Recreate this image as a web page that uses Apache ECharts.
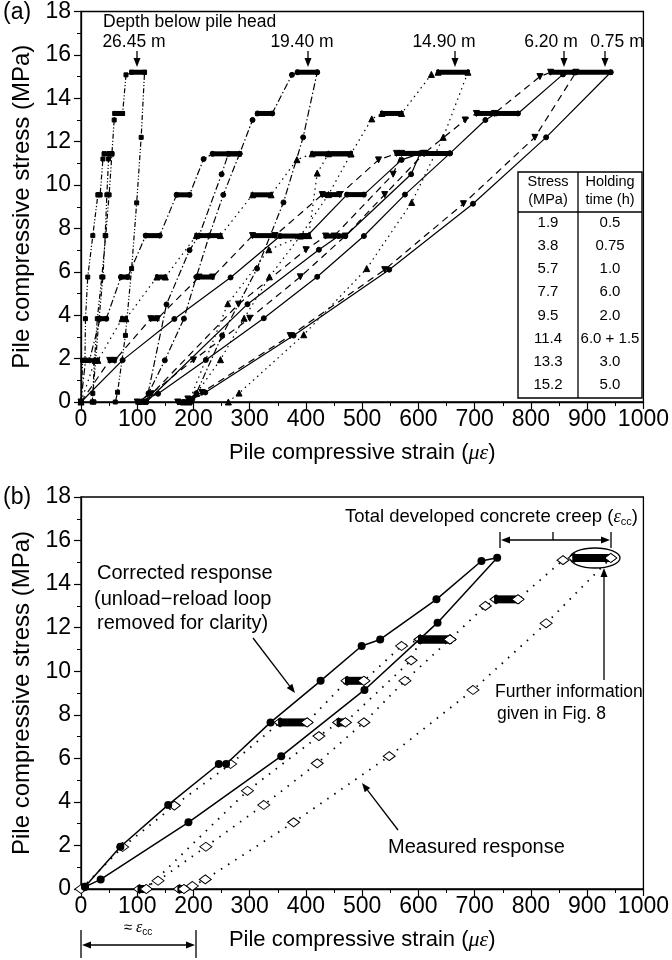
<!DOCTYPE html>
<html>
<head>
<meta charset="utf-8">
<script src="https://cdn.jsdelivr.net/npm/echarts@6/dist/echarts.min.js"></script>
<style>
html, body { margin: 0; padding: 0; background: #fff; }
#figure { width: 672px; height: 960px; }
</style>
</head>
<body>
<div id="figure"></div>
<script>
// [strain (microstrain), stress (MPa)] in test order: load, unload, reload, load, unload
var d2645 = [[0,0],[3,1.92],[7,1.92],[8,3.84],[12,5.76],[21,7.67],[30,9.55],[34,9.55],[39,11.2],[41,11.44],[55,11.44],
    [50,9.55],[44,7.67],[37,5.76],[29,3.84],[24,1.92],[21,0.4],[20,0],[23,0],
    [32,3.84],[39,5.76],[43,7.67],[46,9.55],[49,11.2],[50,11.44],[55,11.44],
    [59,13.0],[60,13.3],[74,13.3],[80,15.08],[90,15.2],[113,15.2],
    [107,12.2],[99,9.18],[90,6.15],[79,3.07],[65,0.45],[61,0]];
var d1940 = [[0,0],[8,1.92],[15,1.92],[34,3.84],[45,3.84],[71,5.76],[83,5.76],[115,7.67],[140,7.67],[170,9.55],[193,9.55],[218,11.2],[234,11.44],[282,11.44],
    [253,9.55],[228,7.67],[205,5.76],[183,3.84],[149,1.92],[120,0.4],[106,0],[116,0],
    [152,4.5],[193,7.0],[210,7.67],[250,10.5],[262,11.44],[282,11.44],
    [305,13.0],[314,13.3],[340,13.3],[375,15.08],[385,15.2],[420,15.2],
    [395,12.2],[360,9.2],[313,6.15],[251,3.07],[205,0.4],[195,0]];
var d1490 = [[0,0],[25,1.92],[30,1.92],[73,3.84],[80,3.84],[135,5.76],[150,5.76],[205,7.67],[248,7.67],[305,9.55],[338,9.55],[384,11.17],[411,11.44],[480,11.44],
    [440,9.56],[390,7.65],[335,5.77],[290,3.86],[248,1.95],[205,0.39],[182,0],[192,0],
    [261,4.53],[334,7.02],[395,7.67],[405,7.67],[420,10.55],[440,11.44],[480,11.44],
    [517,13.05],[535,13.3],[570,13.3],[623,15.1],[635,15.2],[688,15.2],
    [644,12.2],[588,9.2],[508,6.15],[396,3.1],[281,0.41],[262,0]];
var d0620 = [[0,0],[51,1.92],[60,1.92],[124,3.84],[136,3.84],[210,5.76],[234,5.76],[305,7.67],[345,7.67],[429,9.56],[460,9.56],[529,11.16],[561,11.46],[610,11.46],
    [540,9.56],[470,7.65],[390,5.77],[300,3.86],[200,1.94],[125,0.38],[100,0],[112,0],
    [280,4.51],[400,7.02],[435,7.65],[450,7.65],[555,10.5],[570,11.46],[610,11.46],
    [683,13.0],[703,13.3],[735,13.3],[816,15.0],[835,15.2],[880,15.2],
    [807,12.2],[680,9.14],[540,6.1],[372,3.06],[215,0.44],[190,0.14],[172,0]];
// 0.75 m: also the "measured response" of panel (b)
var d0075 = [[0,0],[74,1.93],[166,3.83],[266,5.74],[354,7.65],[402,7.65],[473,9.56],[503,9.56],[570,11.16],[603,11.46],[656,11.46],
    [576,9.56],[503,7.65],[420,5.77],[325,3.86],[222,1.94],[137,0.38],[104,0],[116,0],
    [296,4.51],[423,7.02],[458,7.65],[470,7.65],[587,10.5],[603,11.46],[656,11.46],
    [719,13.0],[738,13.3],[777,13.3],[857,15.1],[877,15.2],[942,15.2],
    [827,12.2],[697,9.14],[548,6.1],[378,3.06],[221,0.44],[198,0.14],[183,0],[175,0]];
var corrected = [[7,0.1],[70,1.94],[155,3.86],[245,5.74],[258,5.74],[337,7.65],[426,9.56],[499,11.16],[532,11.46],[632,13.3],[712,15.06],[740,15.21],
    [634,12.23],[504,9.14],[356,6.1],[191,3.06],[35,0.44],[7,0.1]];

var depthNames = ['26.45 m', '19.40 m', '14.90 m', '6.20 m', '0.75 m'];
var tableStress = ['1.9', '3.8', '5.7', '7.7', '9.5', '11.4', '13.3', '15.2'];
var tableHold = ['0.5', '0.75', '1.0', '6.0', '2.0', '6.0 + 1.5', '3.0', '5.0'];

var FONT = 'Liberation Sans';

// holding stages = consecutive readings at the same stress
function holdsOf(path) {
    var out = [];
    for (var i = 0; i < path.length - 1; i++) {
        if (path[i][1] === path[i + 1][1]) out.push([path[i][0], path[i + 1][0], path[i][1]]);
    }
    return out;
}

function holdSeries(path, idx, h, diamond) {
    return {
        type: 'custom',
        xAxisIndex: idx, yAxisIndex: idx,
        z: 3,
        data: holdsOf(path),
        renderItem: function(params, api) {
            var p1 = api.coord([api.value(0), api.value(2)]);
            var p2 = api.coord([api.value(1), api.value(2)]);
            var x0 = Math.min(p1[0], p2[0]), x1 = Math.max(p1[0], p2[0]);
            var kids = [{ type: 'rect', shape: { x: x0 - 2, y: p1[1] - h / 2, width: x1 - x0 + 4, height: h }, style: { fill: '#000' } }];
            if (diamond) {
                kids.push({ type: 'polygon', shape: { points: [[x1 + 6, p1[1]], [x1, p1[1] - 4.5], [x1 - 6, p1[1]], [x1, p1[1] + 4.5]] },
                    style: { fill: '#fff', stroke: '#000', lineWidth: 1 } });
            }
            return { type: 'group', children: kids };
        }
    };
}

function lineSeries(path, idx, dash, symbol, size, rot) {
    return {
        type: 'line',
        xAxisIndex: idx, yAxisIndex: idx,
        data: path,
        symbol: symbol,
        symbolSize: size,
        symbolRotate: rot || 0,
        showSymbol: true,
        animation: false,
        lineStyle: { color: '#000', width: 1.2, type: dash },
        itemStyle: { color: '#000', borderColor: '#000' },
        z: 2
    };
}

function xAx(idx) {
    return {
        type: 'value', gridIndex: idx, min: 0, max: 1000, interval: 100,
        name: 'Pile compressive strain ({i|με})', nameLocation: 'middle', nameGap: 40,
        nameTextStyle: { fontSize: 22, color: '#000', fontFamily: FONT,
            rich: { i: { fontSize: 22, fontStyle: 'italic', fontFamily: 'Liberation Serif', color: '#000' } } },
        axisLine: { lineStyle: { color: '#000', width: 1.3 } },
        axisTick: { length: 7, lineStyle: { color: '#000', width: 1.2 } },
        minorTick: { show: true, splitNumber: 2, length: 4, lineStyle: { color: '#000', width: 1 } },
        axisLabel: { fontSize: 23, color: '#000', margin: 6, fontFamily: FONT,
            formatter: function(v) { return String(v); } },
        splitLine: { show: false }
    };
}

function yAx(idx) {
    return {
        type: 'value', gridIndex: idx, min: 0, max: 18, interval: 2,
        name: 'Pile compressive stress (MPa)', nameLocation: 'middle', nameGap: 47,
        nameTextStyle: { fontSize: 24, color: '#000', fontFamily: FONT },
        axisLine: { show: true, lineStyle: { color: '#000', width: 1.3 } },
        axisTick: { length: 7, lineStyle: { color: '#000', width: 1.2 } },
        minorTick: { show: true, splitNumber: 2, length: 4, lineStyle: { color: '#000', width: 1 } },
        axisLabel: { fontSize: 23, color: '#000', margin: 10, fontFamily: FONT },
        splitLine: { show: false }
    };
}

function txt(x, y, s, size, align, extra) {
    var st = { text: s, x: 0, y: 0, fontSize: size, fontFamily: FONT, fill: '#000',
        align: align || 'left', textAlign: align || 'left', verticalAlign: 'middle', textVerticalAlign: 'middle' };
    if (extra) for (var k in extra) st[k] = extra[k];
    return { type: 'text', x: x, y: y, style: st };
}

function arrow(x1, y1, x2, y2) {
    var a = Math.atan2(y2 - y1, x2 - x1), L = 9, W = 3.5;
    var bx = x2 - L * Math.cos(a), by = y2 - L * Math.sin(a);
    return [
        { type: 'line', shape: { x1: x1, y1: y1, x2: bx, y2: by }, style: { stroke: '#000', lineWidth: 1.3 } },
        { type: 'polygon', shape: { points: [[x2, y2], [bx + W * Math.sin(a), by - W * Math.cos(a)], [bx - W * Math.sin(a), by + W * Math.cos(a)]] }, style: { fill: '#000' } }
    ];
}

function seg(x1, y1, x2, y2) {
    return { type: 'line', shape: { x1: x1, y1: y1, x2: x2, y2: y2 }, style: { stroke: '#000', lineWidth: 1.3 } };
}

var epsRich = {
    n: { fontSize: 18.5, fontFamily: FONT, fill: '#000', color: '#000' },
    e: { fontSize: 18.5, fontStyle: 'italic', fontFamily: 'Liberation Serif', color: '#000' },
    s: { fontSize: 11, fontFamily: FONT, color: '#000', padding: [10, 0, 0, 0] }
};

var el = [];
// panel tags
el.push(txt(3, 13, '(a)', 23));
el.push(txt(3, 498, '(b)', 23));

// panel (a) depth labels
el.push(txt(103, 22, 'Depth below pile head', 17.5));
var depthX = [134, 302, 444, 551, 617];
var arrowX = [137, 308, 455, 564, 605];
for (var i = 0; i < depthNames.length; i++) {
    el.push(txt(depthX[i], 42, depthNames[i], 17.5, 'center'));
    el = el.concat(arrow(arrowX[i], 51, arrowX[i], 67));
}

// table
var tx0 = 518, tx1 = 642, tcol = 578, ty0 = 172, ty1 = 398, thead = 212;
el.push({ type: 'rect', shape: { x: tx0, y: ty0, width: tx1 - tx0, height: ty1 - ty0 }, style: { fill: '#fff', stroke: '#000', lineWidth: 1.4 } });
el.push(seg(tcol, ty0, tcol, ty1));
el.push(seg(tx0, thead, tx1, thead));
el.push(txt((tx0 + tcol) / 2, 182, 'Stress', 14.5, 'center'));
el.push(txt((tx0 + tcol) / 2, 200, '(MPa)', 14.5, 'center'));
el.push(txt((tcol + tx1) / 2, 182, 'Holding', 14.5, 'center'));
el.push(txt((tcol + tx1) / 2, 200, 'time (h)', 14.5, 'center'));
for (var r = 0; r < tableStress.length; r++) {
    var ry = 222.5 + r * 23.25;
    el.push(txt((tx0 + tcol) / 2, ry, tableStress[r], 15, 'center'));
    el.push(txt((tcol + tx1) / 2, ry, tableHold[r], 15, 'center'));
}

// panel (b) annotations
el.push(txt(345, 517, '{n|Total developed concrete creep (}{e|ε}{s|cc}{n|)}', 18.5, 'left', { rich: epsRich }));
el = el.concat(arrow(553, 540, 501, 540));
el = el.concat(arrow(553, 540, 610, 540));
el.push(seg(500, 532, 500, 548));
el.push(seg(611, 532, 611, 548));
el.push(seg(553, 532, 553, 540));
el.push({ type: 'ellipse', shape: { cx: 595, cy: 558, rx: 25, ry: 10 }, style: { fill: null, stroke: '#000', lineWidth: 1.3 } });
el = el.concat(arrow(604, 680, 604, 568));
el.push(txt(495, 692, 'Further information', 17.5));
el.push(txt(497, 714, 'given in Fig. 8', 17.5));
el.push(txt(97, 573, 'Corrected response', 20));
el.push(txt(94, 599, '(unload\u2212reload loop', 20));
el.push(txt(97, 623, 'removed for clarity)', 20));
el = el.concat(arrow(253, 638, 295, 693));
el.push(txt(388, 847, 'Measured response', 20));
el = el.concat(arrow(398, 830, 362, 783));
el.push(txt(138, 928, '{n|≈ }{e|ε}{s|cc}', 16, 'center', { rich: {
    n: { fontSize: 15, fontFamily: FONT, color: '#000' },
    e: { fontSize: 16, fontStyle: 'italic', fontFamily: 'Liberation Serif', color: '#000' },
    s: { fontSize: 10, fontFamily: FONT, color: '#000', padding: [9, 0, 0, 0] } } }));
el = el.concat(arrow(138, 945, 82, 945));
el = el.concat(arrow(138, 945, 195, 945));
el.push(seg(81, 930, 81, 958));
el.push(seg(196, 930, 196, 958));

var figure = echarts.init(document.getElementById('figure'), null, { renderer: 'canvas' });
var option = {
    animation: false,
    backgroundColor: '#fff',
    textStyle: { fontFamily: FONT },
    grid: [
        { left: 81, right: 26, top: 11, height: 391, show: true, borderColor: '#000', borderWidth: 1.3 },
        { left: 81, right: 26, top: 497, height: 392, show: true, borderColor: '#000', borderWidth: 1.3 }
    ],
    xAxis: [xAx(0), xAx(1)],
    yAxis: [yAx(0), yAx(1)],
    series: [
        lineSeries(d2645, 0, [5, 2, 1.2, 2, 1.2, 2], 'rect', 4),
        lineSeries(d1940, 0, [7, 2.5, 1.5, 2.5], 'circle', 5),
        lineSeries(d1490, 0, [1.5, 4], 'triangle', 6),
        lineSeries(d0620, 0, [7, 5], 'triangle', 6, 180),
        lineSeries(d0075, 0, 'solid', 'circle', 5),
        holdSeries(d2645, 0, 5, false),
        holdSeries(d1940, 0, 5, false),
        holdSeries(d1490, 0, 5, false),
        holdSeries(d0620, 0, 5, false),
        holdSeries(d0075, 0, 5, false),
        {
            type: 'line', xAxisIndex: 1, yAxisIndex: 1, data: d0075,
            symbol: 'diamond', symbolSize: [12, 9], showSymbol: true,
            lineStyle: { color: '#000', width: 1.8, type: [1.5, 7] },
            itemStyle: { color: '#fff', borderColor: '#000', borderWidth: 1 },
            z: 2
        },
        holdSeries(d0075, 1, 8, true),
        {
            type: 'line', xAxisIndex: 1, yAxisIndex: 1, data: corrected,
            symbol: 'circle', symbolSize: 8, showSymbol: true,
            lineStyle: { color: '#000', width: 1.5 },
            itemStyle: { color: '#000' },
            z: 4
        }
    ],
    graphic: { z: 50, elements: el }
};
figure.setOption(option);
</script>
</body>
</html>
